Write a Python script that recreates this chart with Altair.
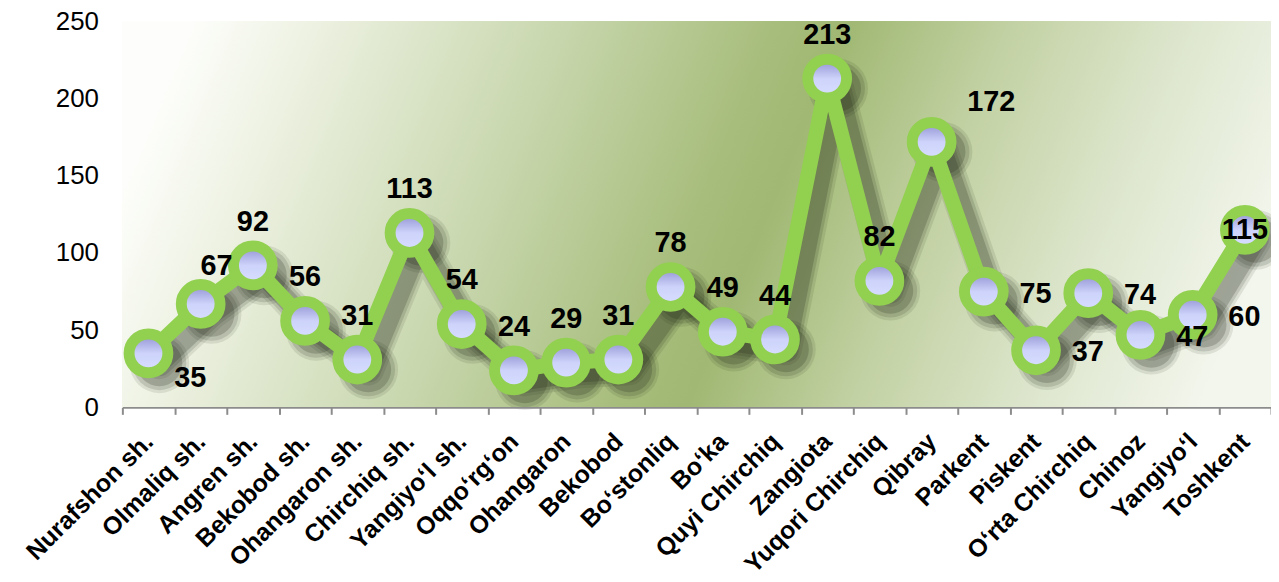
import altair as alt
import pandas as pd

categories = ["Nurafshon sh.", "Olmaliq sh.", "Angren sh.", "Bekobod sh.", "Ohangaron sh.",
              "Chirchiq sh.", "Yangiyo‘l sh.", "Oqqo‘rg‘on", "Ohangaron", "Bekobod",
              "Bo‘stonliq", "Bo‘ka", "Quyi Chirchiq", "Zangiota", "Yuqori Chirchiq",
              "Qibray", "Parkent", "Piskent", "O‘rta Chirchiq", "Chinoz", "Yangiyo‘l", "Toshkent"]
values = [35, 67, 92, 56, 31, 113, 54, 24, 29, 31, 78, 49, 44, 213, 82, 172, 75, 37, 74, 47, 60, 115]
label_place = ["below_right", "above_right", "above", "above", "above", "above", "above", "above",
               "above", "above", "above", "above", "above", "above", "above", "upper_right",
               "right", "right", "right", "right", "right", "center"]
y_ticks = [0, 50, 100, 150, 200, 250]

df = pd.DataFrame({"category": categories, "value": values, "place": label_place})

W, H = 1155, 388
FONT = "Liberation Sans"
GREEN = "#92D050"

bg_gradient = alt.Gradient(
    gradient="linear", x1=0, y1=0.43, x2=1, y2=0.57,
    stops=[
        alt.GradientStop(offset=0.0, color="#fdfefb"),
        alt.GradientStop(offset=0.1, color="#eef2e3"),
        alt.GradientStop(offset=0.3, color="#cbd9b2"),
        alt.GradientStop(offset=0.5, color="#a7bd7c"),
        alt.GradientStop(offset=0.56, color="#a0b873"),
        alt.GradientStop(offset=0.7, color="#c2d1a3"),
        alt.GradientStop(offset=0.85, color="#dde6cd"),
        alt.GradientStop(offset=1.0, color="#f3f6ed"),
    ],
)

point_gradient = alt.Gradient(
    gradient="linear", x1=0, y1=0, x2=0, y2=1,
    stops=[
        alt.GradientStop(offset=0.0, color="#8f8fd0"),
        alt.GradientStop(offset=0.5, color="#cdd3fa"),
        alt.GradientStop(offset=1.0, color="#d8e0ff"),
    ],
)

x_enc = alt.X(
    "category:N", sort=categories, bandPosition=0.5,
    scale=alt.Scale(type="band", paddingInner=0, paddingOuter=0),
    axis=alt.Axis(title=None, labelAngle=-45, labelAlign="right", labelBaseline="middle",
                  labelFontSize=25, labelFontWeight="bold", labelColor="#000000", labelFont=FONT,
                  labelPadding=23, labelLimit=0, tickBand="extent", tickSize=7, tickColor="#8c8c8c",
                  tickWidth=2, domainColor="#8c8c8c", domainWidth=2, grid=False, zindex=1,
                  labelOverlap=False),
)
y_enc = alt.Y(
    "value:Q",
    scale=alt.Scale(domain=[0, 250], nice=False, zero=True),
    axis=alt.Axis(title=None, values=y_ticks, labelFontSize=26, labelColor="#000000", labelFont=FONT,
                  labelPadding=24, ticks=False, tickSize=0, domain=False, grid=False, zindex=1),
)

base = alt.Chart(df).encode(x=x_enc, y=y_enc)

background = alt.Chart(df).mark_rect(fill=bg_gradient).encode(
    x=alt.value(0), x2=alt.value(W), y=alt.value(0), y2=alt.value(H)
)

layers = [background]

# soft shadow of the line and the markers
for w, op in [(32, 0.1), (26, 0.14), (20, 0.2)]:
    layers.append(base.mark_line(color="#1c2414", strokeWidth=w, opacity=op, xOffset=11, yOffset=10,
                                 strokeJoin="round", strokeCap="round"))
for d, op in [(60, 0.1), (54, 0.14), (46, 0.2)]:
    layers.append(base.mark_circle(color="#1c2414", size=d * d, opacity=op,
                                   xOffset=11, yOffset=10))

layers.append(base.mark_line(color=GREEN, strokeWidth=15, strokeJoin="round"))
layers.append(base.mark_point(shape="circle", filled=True, fill=point_gradient, stroke=GREEN,
                              strokeWidth=11, size=39 * 39, opacity=1, fillOpacity=1, strokeOpacity=1))

offsets = {"above": (0, -44), "above_right": (16, -38), "below_right": (42, 25),
           "upper_right": (60, -40), "right": (52, 2), "center": (0, 0)}
for place, (dx, dy) in offsets.items():
    layers.append(
        base.transform_filter(alt.datum.place == place)
        .mark_text(font=FONT, fontSize=29, fontWeight="bold", color="#000000",
                   align="center", baseline="middle", dx=dx, dy=dy)
        .encode(text=alt.Text("value:Q"))
    )

chart = alt.layer(*layers).properties(
    width=W, height=H,
    autosize=alt.AutoSizeParams(type="none"),
    padding={"left": 115, "top": 12, "right": 0, "bottom": 174},
    background="#ffffff",
).configure_view(stroke=None)

chart.save("out.html", embed_options={"renderer": "svg", "actions": False})
